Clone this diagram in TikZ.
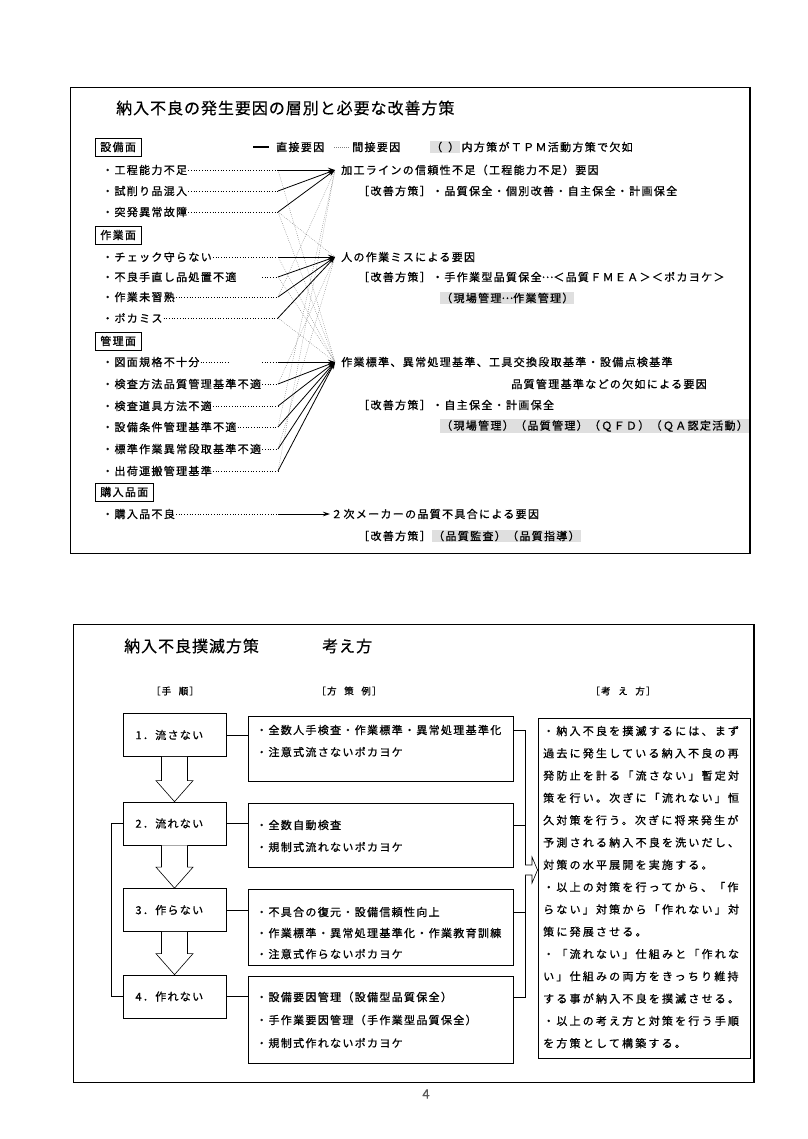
\documentclass[tikz,border=0pt]{standalone}
\usepackage{fontspec}
\newfontfamily\jpitem[LetterSpace=12, FakeBold=0.9]{Noto Sans CJK JP}
\newfontfamily\jpbody[LetterSpace=20, FakeBold=0.9]{Noto Sans CJK JP}
\newfontfamily\jphead[LetterSpace=6, FakeBold=0.4]{Noto Sans CJK JP}
\usetikzlibrary{positioning,calc,arrows.meta}
\newcommand{\midell}{\raisebox{0.3em}{…}}

\begin{document}
\begin{tikzpicture}[x=1pt, y=-1pt,
    panel/.style={line width=0.9pt},
    heading/.style={font=\jphead\fontsize{16}{18}\selectfont, anchor=west, inner sep=0pt},
    txt/.style={font=\jpitem\fontsize{11}{13}\selectfont, anchor=west, inner sep=1pt},
    catbox/.style={txt, draw, line width=0.6pt, inner xsep=5pt, inner ysep=4pt},
    shaded/.style={txt, fill=gray!25},
    leader/.style={line width=0.6pt, dash pattern=on 0.7pt off 2pt},
    direct/.style={line width=0.8pt, -{Stealth[length=7pt,width=4.5pt]}},
    indirect/.style={gray, line width=0.45pt, dash pattern=on 0.7pt off 1.3pt},
    colhead/.style={font=\jpitem\fontsize{9.5}{11}\selectfont, inner sep=0pt},
    stepbox/.style={draw, line width=0.7pt, minimum width=103pt, minimum height=43pt,
        text width=78pt, align=left, font=\jpitem\fontsize{11}{13}\selectfont},
    planbox/.style={draw, line width=0.7pt, minimum width=265pt},
    conn/.style={line width=0.6pt},
    hollow/.style={line width=0.6pt, fill=white},
    kbody/.style={font=\jpbody\fontsize{11}{13}\selectfont, anchor=west, inner sep=0pt}]
    \useasboundingbox (0,0) rectangle (807,1139);

    % ---------------- upper panel ----------------
    \draw[panel] (70,87) rectangle (750,553);
    \draw[line width=2pt] (750,87) -- (750,553);
    \node[heading] (title1) at (116,108) {納入不良の発生要因の層別と必要な改善方策};

    % legend
    \coordinate (la) at (253,147);
    \coordinate (lb) at (269,147);
    \draw[line width=1.2pt] (la) -- (lb);
    \node[txt] (ldirect) at (275,147) {直接要因};
    \coordinate (lc) at (334,147);
    \coordinate (ld) at (349,147);
    \draw[indirect] (lc) -- (ld);
    \node[txt] (lindirect) at (351,147) {間接要因};
    \node[shaded] (lshade) at (430,147) {（\hspace{6pt}）};
    \node[txt, right=0pt of lshade] (lnote) {内方策がＴＰＭ活動方策で欠如};

    % category boxes
    \node[catbox] (cat1) at (95,147) {設備面};
    \node[catbox] (cat2) at (95,235) {作業面};
    \node[catbox] (cat3) at (95,341) {管理面};
    \node[catbox] (cat4) at (95,492) {購入品面};

    % causes
    \foreach \n/\y/\t in {i1/170/工程能力不足, i2/191/試削り品混入, i3/212/突発異常故障,
        i4/257/チェック守らない, i5/277/不良手直し品処置不適, i6/297/作業未習熟,
        i7/318/ポカミス, i8/362/図面規格不十分, i9/384/検査方法品質管理基準不適,
        i10/406/検査道具方法不適, i11/427/設備条件管理基準不適,
        i12/449/標準作業異常段取基準不適, i13/471/出荷運搬管理基準, i14/514/購入品不良} {
        \node[txt] (\n) at (101,\y) {・\t};
        \coordinate (e\n) at (278,\y);
    }
    \foreach \n in {i1,i2,i3,i4,i6,i7,i9,i10,i11,i12,i13,i14}
        \draw[leader] (\n.east) -- (e\n);
    \draw[leader] (i8.east) -- ++(28,0);
    \draw[leader] ($(ei8)+(-16,0)$) -- (ei8);
    \draw[leader] ($(ei5)+(-16,0)$) -- (ei5);

    % convergence points
    \coordinate (p1) at (335,170);
    \coordinate (p2) at (335,257);
    \coordinate (p3) at (335,362);

    % indirect causes
    \foreach \a/\b in {i1/p3, i3/p3, i4/p3, i5/p3, i7/p3, i6/p1, i11/p1, i13/p1,
        i3/p2, i9/p2, i12/p2}
        \draw[indirect] (e\a) -- (\b);

    % direct causes
    \foreach \n in {i1,i2,i3}
        \draw[direct] (e\n) -- (p1);
    \foreach \n in {i4,i5,i6,i7}
        \draw[direct] (e\n) -- (p2);
    \foreach \n in {i8,i9,i10,i11,i12,i13}
        \draw[direct] (e\n) -- (p3);

    % effects and measures
    \node[txt] (r1) at (340,170) {加工ラインの信頼性不足（工程能力不足）要因};
    \node[txt] (m1) at (357,191) {［改善方策］・品質保全・個別改善・自主保全・計画保全};
    \node[txt] (r2) at (340,257) {人の作業ミスによる要因};
    \node[txt] (m2) at (357,277) {［改善方策］・手作業型品質保全\midell＜品質ＦＭＥＡ＞＜ポカヨケ＞};
    \node[shaded] (s2) at (440,298) {（現場管理\midell 作業管理）};
    \node[txt] (r3) at (340,362) {作業標準、異常処理基準、工具交換段取基準・設備点検基準};
    \node[txt, anchor=east] (r3b) at (708,384) {品質管理基準などの欠如による要因};
    \node[txt] (m3) at (357,405) {［改善方策］・自主保全・計画保全};
    \node[shaded] (s3) at (440,426) {（現場管理）（品質管理）（ＱＦＤ）（ＱＡ認定活動）};
    \node[txt] (r4) at (330,514) {２次メーカーの品質不具合による要因};
    \draw[direct] (ei14) -- (r4.west);
    \node[txt] (m4) at (357,536) {［改善方策］};
    \node[shaded, right=0pt of m4] (s4) {（品質監査）（品質指導）};

    % ---------------- lower panel ----------------
    \draw[panel] (73,624) rectangle (754,1082);
    \draw[line width=2pt] (754,624) -- (754,1082);
    \node[heading] (title2) at (124,646) {納入不良撲滅方策};
    \node[heading] (title2b) at (322,646) {考え方};

    \node[colhead] (h1) at (175,691) {［手\hspace{0.8em}順］};
    \node[colhead] (h2) at (349,691) {［方\hspace{0.8em}策\hspace{0.8em}例］};
    \node[colhead] (h3) at (623,691) {［考\hspace{0.8em}え\hspace{0.8em}方］};

    % steps
    \node[stepbox] (st1) at (174.5,735) {1．流さない};
    \node[stepbox] (st2) at (174.5,823.5) {2．流れない};
    \node[stepbox] (st3) at (174.5,910) {3．作らない};
    \node[stepbox] (st4) at (174.5,996.5) {4．作れない};

    \foreach \a/\b in {st1/st2, st2/st3, st3/st4}
        \draw[hollow] ($(\a.south)+(-13,0)$) -- ($(\b.north)+(-13,-21)$)
            -- ($(\b.north)+(-18.5,-21)$) -- (\b.north) -- ($(\b.north)+(18.5,-21)$)
            -- ($(\b.north)+(13,-21)$) -- ($(\a.south)+(13,0)$);

    % measures per step
    \node[planbox, minimum height=65pt] (pl1) at (380.5,748.5) {};
    \node[planbox, minimum height=64pt] (pl2) at (380.5,835) {};
    \node[planbox, minimum height=76pt] (pl3) at (380.5,927) {};
    \node[planbox, minimum height=87pt] (pl4) at (380.5,1019.5) {};

    \foreach \n/\y/\t in {pl1a/730/全数人手検査・作業標準・異常処理基準化, pl1b/752/注意式流さないポカヨケ,
        pl2a/825/全数自動検査, pl2b/847/規制式流れないポカヨケ,
        pl3a/912/不具合の復元・設備信頼性向上, pl3b/933/作業標準・異常処理基準化・作業教育訓練,
        pl3c/954/注意式作らないポカヨケ,
        pl4a/997/設備要因管理（設備型品質保全）, pl4b/1020/手作業要因管理（手作業型品質保全）,
        pl4c/1043/規制式作れないポカヨケ}
        \node[txt] (\n) at (255,\y) {・\t};

    \foreach \k in {1,...,4}
        \draw[conn] (st\k.east) -- (st\k.east -| pl\k.west);
    \draw[conn] (st2.west) -- ++(-11,0) |- (st4.west);

    % bracket to the idea box
    \coordinate (b1) at (525,730);
    \coordinate (b2) at (525,825);
    \coordinate (b3) at (525,912);
    \coordinate (b4) at (525,997);
    \coordinate (bm) at (525,870);
    \draw[conn] (pl1.east |- b1) -- (b1) -- (b4) -- (pl4.east |- b4);
    \draw[conn] (pl2.east |- b2) -- (b2);
    \draw[conn] (pl3.east |- b3) -- (b3);

    \node[draw, line width=0.9pt, minimum width=212pt, minimum height=340pt] (kt) at (644,888) {};
    \draw[hollow] ($(bm)+(0,-5)$) -- ($(bm)+(7,-5)$) -- ($(bm)+(7,-13)$) -- (bm -| kt.west)
        -- ($(bm)+(7,13)$) -- ($(bm)+(7,5)$) -- ($(bm)+(0,5)$);

    \foreach \t [count=\k] in {・納入不良を撲滅するには、まず, 過去に発生している納入不良の再,
        発防止を計る「流さない」暫定対, 策を行い。次ぎに「流れない」恒,
        久対策を行う。次ぎに将来発生が, 予測される納入不良を洗いだし、,
        対策の水平展開を実施する。, ・以上の対策を行ってから、「作,
        らない」対策から「作れない」対, 策に発展させる。,
        ・「流れない」仕組みと「作れな, い」仕組みの両方をきっちり維持,
        する事が納入不良を撲滅させる。, ・以上の考え方と対策を行う手順,
        を方策として構築する。}
        \node[kbody] (kl\k) at (543,{731+22.3*(\k-1)}) {\t};

    \node[font=\jpitem\fontsize{13}{15}\selectfont, text=gray!70!black] (pg) at (426,1094) {4};
\end{tikzpicture}
\end{document}
